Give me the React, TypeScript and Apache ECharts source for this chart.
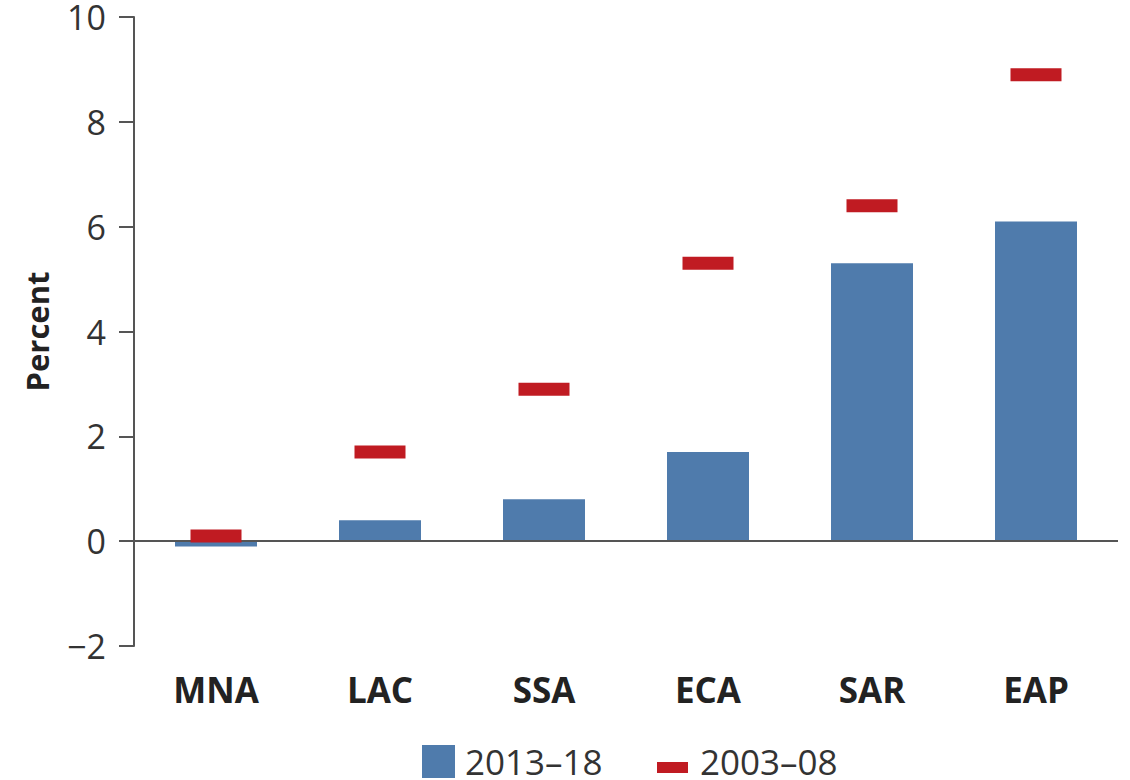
import React, { useEffect, useRef } from "react";
import * as echarts from "echarts";

const categories = ["MNA", "LAC", "SSA", "ECA", "SAR", "EAP"];
const values2013 = [-0.1, 0.4, 0.8, 1.7, 5.3, 6.1];
const values2003 = [0.1, 1.7, 2.9, 5.3, 6.4, 8.9];
const seriesNames = ["2013–18", "2003–08"];
const yTicks = { min: -2, max: 10, interval: 2 };

const BLUE = "#4f7bac";
const RED = "#c01b22";
const FONT = "'Open Sans', 'Noto Sans', sans-serif";

export default function App() {
  const ref = useRef<HTMLDivElement>(null);
  useEffect(() => {
    if (!ref.current) return;
    const chart = echarts.init(ref.current, null, { renderer: "svg" });
    chart.setOption({
      animation: false,
      backgroundColor: "#ffffff",
      grid: { left: 134, right: 12, top: 17, bottom: 134 },
      xAxis: {
        type: "category",
        data: categories,
        axisLine: { show: false },
        axisTick: { show: false },
        axisLabel: {
          margin: 26,
          fontFamily: FONT,
          fontWeight: "bold",
          fontSize: 35,
          color: "#222",
        },
      },
      yAxis: {
        type: "value",
        min: yTicks.min,
        max: yTicks.max,
        interval: yTicks.interval,
        name: "Percent",
        nameLocation: "middle",
        nameRotate: 90,
        nameGap: 82,
        nameTextStyle: { fontFamily: FONT, fontWeight: "bold", fontSize: 31, color: "#222" },
        axisLine: { show: true, lineStyle: { color: "#555", width: 2 } },
        axisTick: { show: true, length: 15, lineStyle: { color: "#555", width: 2 } },
        splitLine: { show: false },
        axisLabel: {
          margin: 28,
          fontFamily: FONT,
          fontSize: 34,
          lineHeight: 26,
          color: "#333",
          formatter: (v: number) => String(v).replace("-", "\u2212"),
        },
      },
      series: [
        {
          name: seriesNames[0],
          type: "bar",
          data: values2013,
          barWidth: "50%",
          itemStyle: { color: BLUE },
          z: 2,
          markLine: {
            silent: true,
            symbol: "none",
            label: { show: false },
            lineStyle: { color: "#555", width: 2, type: "solid" },
            data: [{ yAxis: 0 }],
            z: 3,
          },
        },
        {
          name: seriesNames[1],
          type: "scatter",
          data: values2003,
          symbol: "rect",
          symbolSize: [51, 13],
          itemStyle: { color: RED, opacity: 1 },
          z: 4,
        },
      ],
      graphic: [
        { type: "rect", left: 422, top: 745, shape: { width: 33, height: 33 }, style: { fill: BLUE } },
        {
          type: "text",
          left: 465,
          top: 744,
          style: { text: seriesNames[0], font: `35px ${FONT}`, lineHeight: 33, fill: "#333" },
        },
        { type: "rect", left: 657, top: 762, shape: { width: 31, height: 11 }, style: { fill: RED } },
        {
          type: "text",
          left: 700,
          top: 744,
          style: { text: seriesNames[1], font: `35px ${FONT}`, lineHeight: 33, fill: "#333" },
        },
      ],
    });
    return () => chart.dispose();
  }, []);
  return (
    <div
      ref={ref}
      style={{ position: "fixed", left: 0, top: 0, width: 1130, height: 780, background: "#fff" }}
    />
  );
}
